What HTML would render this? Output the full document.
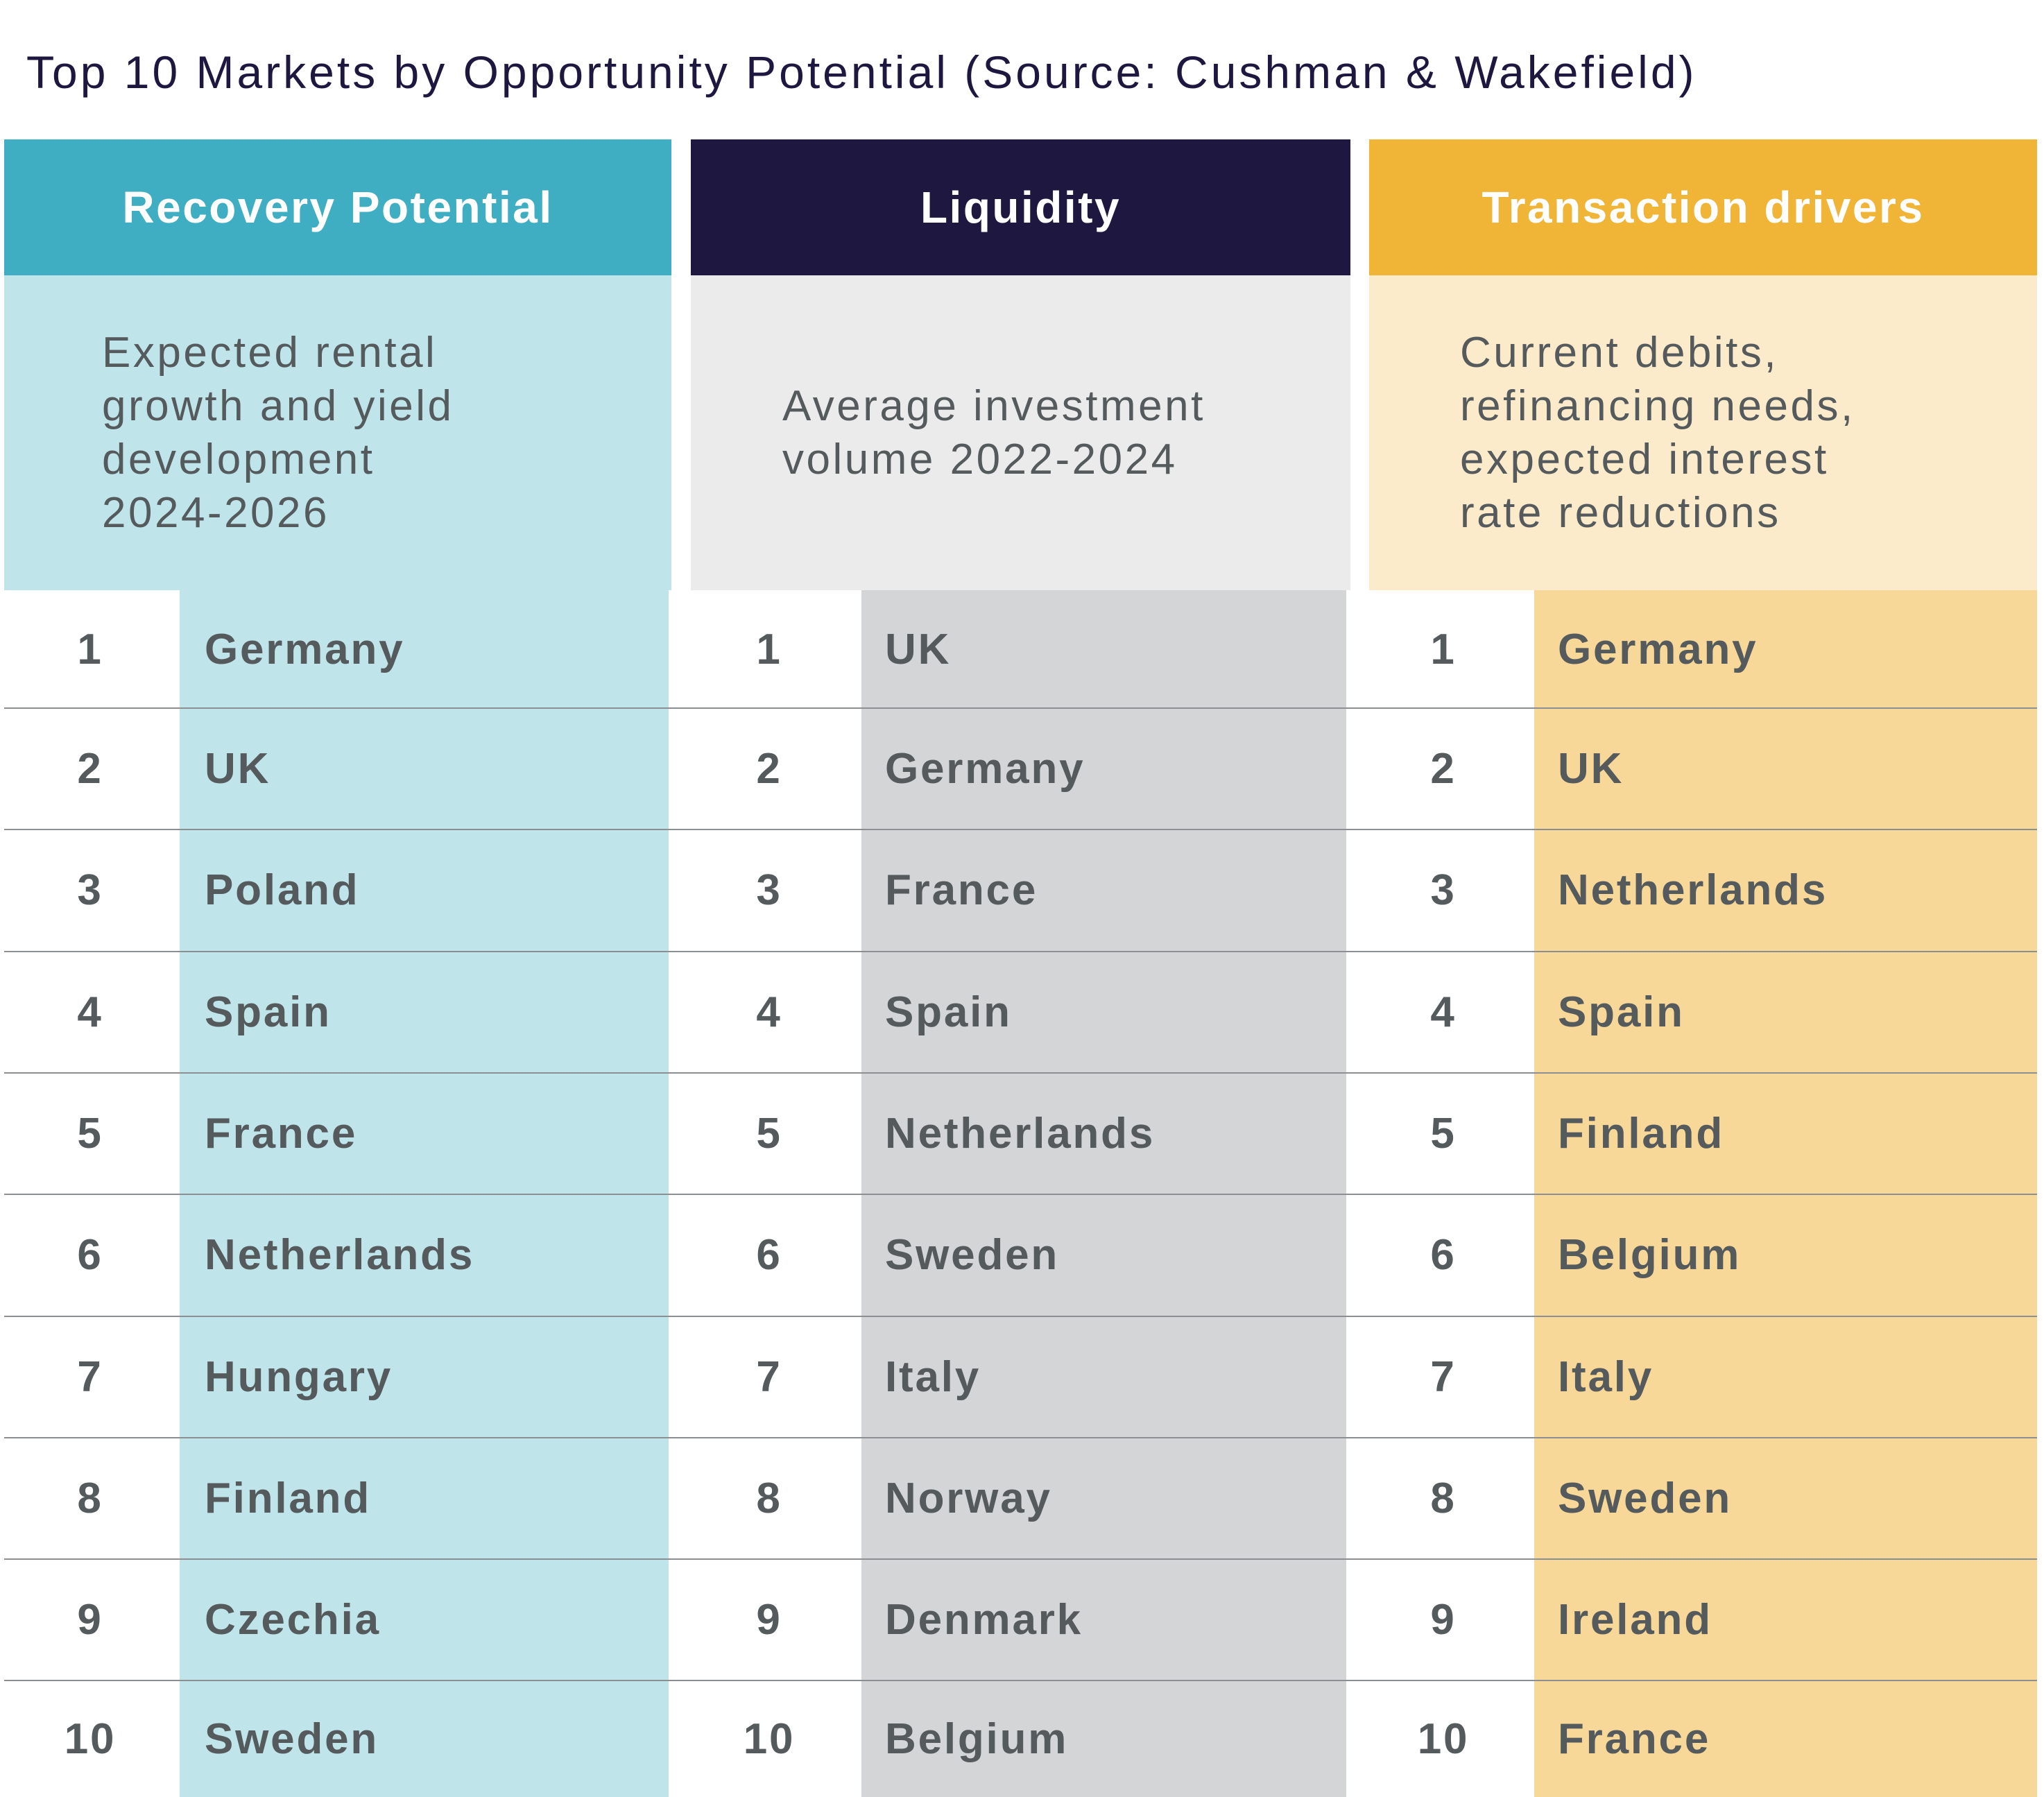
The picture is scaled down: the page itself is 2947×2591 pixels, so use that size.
<!DOCTYPE html>
<html><head><meta charset="utf-8">
<style>
body{margin:0;width:2947px;height:2591px;background:#fff;position:relative;overflow:hidden;font-family:"Liberation Sans",sans-serif;}
.a{position:absolute;}
.hdr{color:#fff;font-weight:bold;font-size:64px;letter-spacing:2.5px;display:flex;align-items:center;justify-content:center;}
.desc{color:#555a5c;font-size:62px;letter-spacing:3.5px;line-height:77px;}
.cell{color:#555a5c;font-weight:bold;font-size:62px;letter-spacing:2.8px;display:flex;align-items:center;}
</style></head>
<body>
<div class="a" style="left:38px;top:66px;font-size:66px;letter-spacing:4px;color:#1e1840;white-space:nowrap;">Top 10 Markets by Opportunity Potential (Source: Cushman &amp; Wakefield)</div>
<div id="tbl"></div>
<script>
const headers=["Recovery Potential","Liquidity","Transaction drivers"];
const descriptions=[["Expected rental","growth and yield","development","2024-2026"],["Average investment","volume 2022-2024"],["Current debits,","refinancing needs,","expected interest","rate reductions"]];
const ranks=[1,2,3,4,5,6,7,8,9,10];
const recovery=["Germany","UK","Poland","Spain","France","Netherlands","Hungary","Finland","Czechia","Sweden"];
const liquidity=["UK","Germany","France","Spain","Netherlands","Sweden","Italy","Norway","Denmark","Belgium"];
const drivers=["Germany","UK","Netherlands","Spain","Finland","Belgium","Italy","Sweden","Ireland","France"];
const lists=[recovery,liquidity,drivers];
const cols=[{x:6,w:962,nx:259,nw:705,hc:"#3faec3",dc:"#bfe4ea",nc:"#bfe4ea",tx:147,num:130,name:295},
{x:996,w:951,nx:1242,nw:699,hc:"#1e1840",dc:"#ebebeb",nc:"#d4d5d7",tx:1128,num:1109,name:1276},
{x:1974,w:963,nx:2212,nw:725,hc:"#f0b436",dc:"#fcebcb",nc:"#f7d898",tx:2105,num:2081,name:2246}];
const T=document.getElementById('tbl');
function mk(cls,st,txt){const d=document.createElement('div');d.className='a '+cls;d.style.cssText=st;if(txt!==undefined)d.textContent=txt;T.appendChild(d);return d;}
const rowTop=i=>i===0?851:1021+(i-1)*175.3;
const rowBot=i=>i===9?2591:1021+i*175.3;
cols.forEach((c,ci)=>{
  let h=mk('hdr',`left:${c.x}px;top:201px;width:${c.w}px;height:196px;background:${c.hc}`,headers[ci]);
  
  
  let d=mk('',`left:${c.x}px;top:397px;width:${c.w}px;height:454px;background:${c.dc}`);
  
  
  const L=descriptions[ci];const top=624-L.length*77/2;
  let t=mk('desc',`left:${c.tx}px;top:${top}px;white-space:nowrap`);
  t.innerHTML=L.join('<br>');
  
  
  let nb=mk('',`left:${c.nx}px;top:851px;width:${c.nw}px;height:1740px;background:${c.nc}`);
  
  
  ranks.forEach((r,i)=>{
    const y0=rowTop(i),hh=rowBot(i)-y0;
    let n=mk('cell',`left:${c.num-80}px;top:${y0}px;width:160px;height:${hh}px;justify-content:center`,r);
    
    
    let m=mk('cell',`left:${c.name}px;top:${y0}px;height:${hh}px;white-space:nowrap`,lists[ci][i]);
    
    
  });
});
for(let i=1;i<10;i++){
  let l=mk('',`left:6px;top:${rowTop(i)-1}px;width:2931px;height:2px;background:#8c8f91`);
  
  
}
</script>
</body></html>
